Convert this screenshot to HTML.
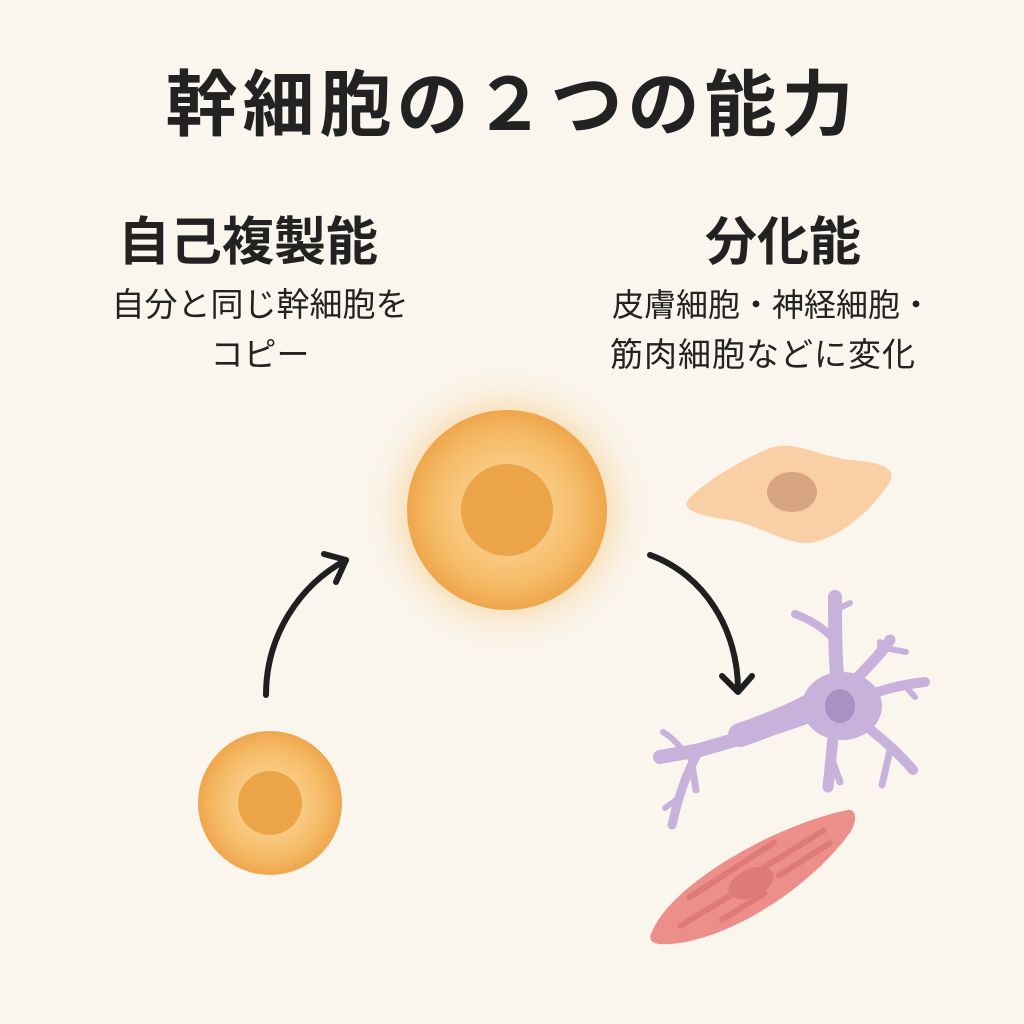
<!DOCTYPE html>
<html><head><meta charset="utf-8"><style>
html,body{margin:0;padding:0;background:#faf6ee;}
.wrap{position:relative;width:1024px;height:1024px;overflow:hidden;background:#faf6ee;font-family:"Liberation Sans","Noto Sans CJK JP",sans-serif;color:#222;}
.t{position:absolute;white-space:nowrap;}
</style></head><body><div class="wrap">
<svg width="1024" height="1024" style="position:absolute;left:0;top:0">
<defs>
<radialGradient id="glow" cx="0.5" cy="0.5" r="0.5">
<stop offset="0.6" stop-color="#f7c47a" stop-opacity="0.55"/>
<stop offset="1" stop-color="#faf6ee" stop-opacity="0"/>
</radialGradient>
<radialGradient id="cell" cx="0.5" cy="0.5" r="0.5">
<stop offset="0.45" stop-color="#f9c982"/>
<stop offset="0.75" stop-color="#f5bb66"/>
<stop offset="1" stop-color="#efa64c"/>
</radialGradient>
</defs>
<circle cx="507" cy="510" r="150" fill="url(#glow)"/>
<circle cx="507" cy="510" r="100" fill="url(#cell)"/>
<circle cx="507" cy="510" r="46" fill="#eba548"/>
<circle cx="270" cy="803" r="72" fill="url(#cell)"/>
<circle cx="270" cy="803" r="32" fill="#eba548"/>
<g fill="none" stroke="#1f1f1f" stroke-width="6" stroke-linecap="round" stroke-linejoin="round">
<path d="M266,695 C266,635 300,585 346,560"/>
<path d="M324,554 L346,560 L336,582"/>
<path d="M650,555 C705,575 738,630 738,690"/>
<path d="M722,676 L738,692 L752,676"/>
</g>
<path d="M688,500 C700,485 740,460 770,448 C795,440 815,455 850,460 C880,462 900,468 888,485 C875,505 845,535 815,542 C790,548 760,525 730,520 C700,516 680,510 688,500 Z" fill="#f9cfa5"/>
<ellipse cx="792" cy="492" rx="25" ry="20" fill="#d6a47f"/>
<g fill="none" stroke="#c8b2dc" stroke-linecap="round" stroke-linejoin="round">
<path d="M840,700 C810,720 750,735 700,750 C690,752 670,755 660,757" stroke-width="14"/>
<path d="M820,700 C800,712 770,725 740,735" stroke-width="24"/>
<path d="M700,750 C690,765 680,790 672,825" stroke-width="9"/>
<path d="M690,752 L696,790" stroke-width="7"/>
<path d="M685,753 C675,740 668,735 663,732" stroke-width="6"/>
<path d="M676,800 L665,808" stroke-width="6"/>
<path d="M840,700 C835,670 835,630 835,597" stroke-width="14"/>
<path d="M835,640 C820,625 810,620 795,614" stroke-width="8"/>
<path d="M836,610 L850,603" stroke-width="6"/>
<path d="M845,690 C865,670 880,655 890,640" stroke-width="11"/>
<path d="M885,648 L906,652" stroke-width="6"/>
<path d="M880,655 L880,642" stroke-width="6"/>
<path d="M855,700 C880,690 905,684 925,682" stroke-width="10"/>
<path d="M905,686 L915,697" stroke-width="6"/>
<path d="M850,715 C880,735 900,755 913,770" stroke-width="10"/>
<path d="M890,750 L882,785" stroke-width="7"/>
<path d="M835,720 C832,745 830,770 828,787" stroke-width="11"/>
<path d="M832,760 L840,782" stroke-width="7"/>
</g>
<ellipse cx="842" cy="706" rx="40" ry="34" fill="#c8b2dc"/>
<ellipse cx="840" cy="706" rx="15" ry="17" fill="#a991c4"/>
<g transform="translate(757,877) rotate(-25)">
<path d="M-118,5 C-80,-30 40,-40 112,-22 C118,-18 115,-10 105,-2 C40,35 -60,45 -112,22 C-125,16 -125,10 -118,5 Z" fill="#ec8f8b"/>
<g stroke="#dd7773" stroke-width="6" stroke-linecap="round" opacity="0.8">
<line x1="-70" y1="-10" x2="30" y2="-24"/>
<line x1="-20" y1="-2" x2="80" y2="-14"/>
<line x1="-90" y1="12" x2="-20" y2="4"/>
<line x1="20" y1="8" x2="80" y2="0"/>
<line x1="-50" y1="24" x2="0" y2="18"/>
</g>
<ellipse cx="-8" cy="3" rx="24" ry="14" fill="#de7b77"/>
</g>
</svg>
<div class="t" style="left:0;width:1024px;text-align:center;top:46px;font-size:72px;font-weight:bold;letter-spacing:5px;">幹細胞の２つの能力</div>
<div class="t" style="left:98px;width:300px;text-align:center;top:200px;font-size:52px;font-weight:bold;">自己複製能</div>
<div class="t" style="left:683px;width:200px;text-align:center;top:200px;font-size:52px;font-weight:bold;">分化能</div>
<div class="t" style="left:95px;width:330px;text-align:center;top:280px;font-size:33px;line-height:50px;">自分と同じ幹細胞を<br>コピー</div>
<div class="t" style="left:612px;top:280px;font-size:32px;line-height:50px;">皮膚細胞・神経細胞・</div>
<div class="t" style="left:610px;top:330px;font-size:33px;line-height:50px;letter-spacing:1px;">筋肉細胞などに変化</div>
</div></body></html>
